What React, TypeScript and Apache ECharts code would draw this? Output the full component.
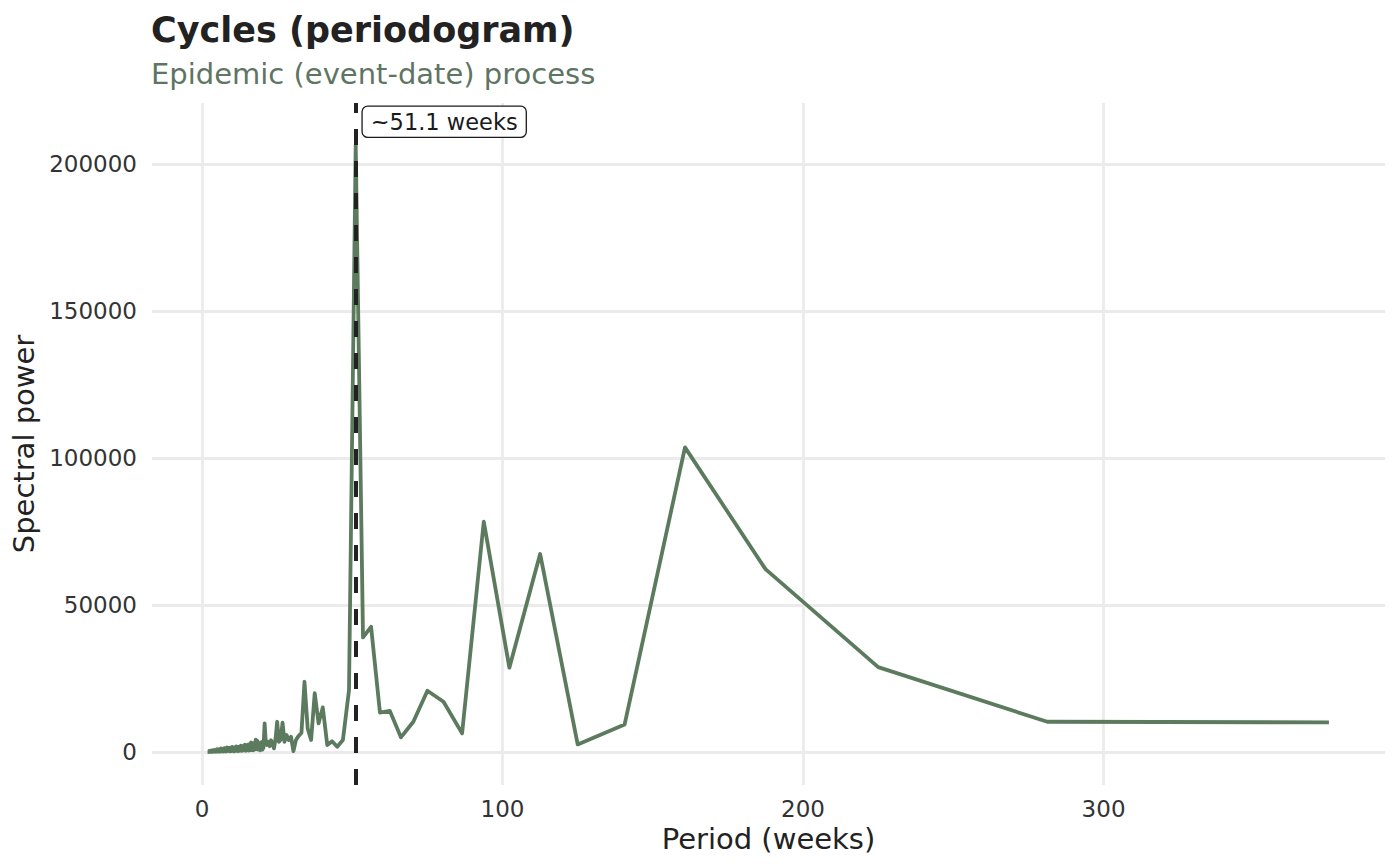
import React, { useEffect, useRef } from "react";
import * as echarts from "echarts";

const periods: number[] = [
  2.0, 2.1, 2.2, 2.31, 2.42, 2.54, 2.67, 2.81, 2.96, 3.13, 3.31, 3.52, 3.75, 4.0,
  4.28, 4.43, 4.59, 4.77, 4.95, 5.14, 5.36, 5.58, 5.83, 6.1, 6.39, 6.7, 7.05, 7.24,
  7.44, 7.65, 7.86, 8.09, 8.33, 8.59, 8.87, 9.15, 9.46, 9.78, 10.14, 10.32, 10.51,
  10.71, 10.92, 11.13, 11.36, 11.6, 11.84, 12.1, 12.36, 12.64, 12.93, 13.24, 13.55,
  13.89, 14.24, 14.61, 15.0, 15.2, 15.41, 15.63, 15.85, 16.07, 16.3, 16.54, 16.79,
  17.05, 17.31, 17.58, 17.86, 18.15, 18.44, 18.75, 19.07, 19.4, 19.74, 20.09,
  20.45, 20.83, 21.23, 21.63, 22.06, 22.5, 22.96, 23.44, 23.94, 24.46, 25.0, 25.57,
  26.16, 26.79, 27.44, 28.13, 28.85, 29.61, 30.41, 31.25, 32.14, 33.09, 34.09,
  35.16, 36.29, 37.5, 38.79, 40.18, 41.67, 43.27, 45.0, 46.88, 48.91, 51.14, 53.57,
  56.25, 59.21, 62.5, 66.18, 70.31, 75.0, 80.36, 86.54, 93.75, 102.27, 112.5, 125.0,
  140.63, 160.71, 187.5, 225.0, 281.25, 375.0,
];

const power: number[] = [
  200, 30, 300, 40, 350, 60, 400, 80, 500, 100, 550, 60, 650, 150,
  750, 100, 700, 150, 950, 200, 850, 150, 1000, 200, 1200, 250, 1100, 200,
  1350, 300, 1250, 200, 1600, 400, 1400, 250, 1500, 300, 1700, 450, 1500,
  250, 1600, 400, 1950, 450, 1750, 300, 1850, 500, 2200, 400, 2000,
  600, 2500, 450, 2300, 700, 2600, 500, 2500, 650, 3300, 700, 2900,
  600, 3100, 900, 4200, 1000, 3800, 800, 2700, 600, 3400, 800,
  1500, 9750, 3000, 2400, 3500, 2000, 4000, 2800, 1250, 4500, 10300, 3500,
  4200, 10000, 3500, 5800, 4100, 5200, 300, 4100, 5500, 6600, 23900,
  8000, 4100, 20000, 9750, 15200, 2400, 3700, 1800, 4100, 21100, 206500, 39000,
  42600, 13400, 14000, 5000, 10300, 20850, 17100, 6350, 78350, 28700, 67350, 2600,
  9400, 103600, 62200, 28900, 10300, 10100,
];

const peakPeriod = 51.14;
const peakLabel = "~51.1 weeks";
const labelY = 214300;
const xTicks: number[] = [0, 100, 200, 300];
const yTicks: number[] = [0, 50000, 100000, 150000, 200000];

const FONT = "DejaVu Sans";

export default function App() {
  const ref = useRef<HTMLDivElement>(null);
  useEffect(() => {
    if (!ref.current) return;
    const chart = echarts.init(ref.current, undefined, { renderer: "svg" });
    const lineData = periods.map((p, i) => [p, power[i]]);
    chart.setOption({
      animation: false,
      backgroundColor: "#ffffff",
      graphic: [
        {
          type: "text",
          left: 151,
          top: 12,
          style: {
            text: "Cycles (periodogram)",
            font: `bold 35px "${FONT}"`,
            fill: "#222222",
          },
        },
        {
          type: "text",
          left: 151,
          top: 59,
          style: {
            text: "Epidemic (event-date) process",
            font: `29px "${FONT}"`,
            fill: "#5f7563",
          },
        },
      ],
      grid: { left: 152, right: 15, top: 103, bottom: 81, containLabel: false },
      xAxis: {
        type: "value",
        min: -16.65,
        max: 393.65,
        name: "Period (weeks)",
        nameLocation: "middle",
        nameGap: 27,
        nameTextStyle: { fontFamily: FONT, fontSize: 29, color: "#222222" },
        axisLine: { show: false },
        axisTick: { show: false },
        axisLabel: {
          fontFamily: FONT,
          fontSize: 23,
          color: "#333333",
          margin: 12,
          showMinLabel: false,
          showMaxLabel: false,
          formatter: (v: number) => (xTicks.includes(v) ? String(v) : ""),
        },
        splitLine: {
          show: true,
          showMinLine: false,
          showMaxLine: false,
          lineStyle: { color: "#ebebeb", width: 2.8 },
        },
      },
      yAxis: {
        type: "value",
        min: -11200,
        max: 220700,
        name: "Spectral power",
        nameLocation: "middle",
        nameGap: 110,
        nameTextStyle: { fontFamily: FONT, fontSize: 29, color: "#222222" },
        axisLine: { show: false },
        axisTick: { show: false },
        axisLabel: {
          fontFamily: FONT,
          fontSize: 23,
          color: "#333333",
          margin: 15,
          showMinLabel: false,
          showMaxLabel: false,
          formatter: (v: number) => (yTicks.includes(v) ? String(v) : ""),
        },
        splitLine: {
          show: true,
          showMinLine: false,
          showMaxLine: false,
          lineStyle: { color: "#ebebeb", width: 2.8 },
        },
      },
      series: [
        {
          type: "line",
          data: lineData,
          showSymbol: false,
          symbol: "none",
          lineStyle: { color: "#5c7b5e", width: 3.8, join: "round" },
          z: 2,
        },
        {
          type: "scatter",
          data: [[peakPeriod, labelY]],
          symbolSize: 0,
          itemStyle: { opacity: 1 },
          z: 5,
          label: {
            show: true,
            position: "right",
            distance: 7,
            formatter: peakLabel,
            fontFamily: FONT,
            fontSize: 22.5,
            lineHeight: 22,
            color: "#1a1a1a",
            opacity: 1,
            backgroundColor: "#ffffff",
            borderColor: "#1a1a1a",
            borderWidth: 1.3,
            borderRadius: 5,
            padding: [4, 8, 4, 8],
          },
          markLine: {
            silent: true,
            symbol: ["none", "none"],
            label: { show: false },
            lineStyle: { color: "#222222", width: 4, type: [16, 16], opacity: 1 },
            data: [{ xAxis: peakPeriod }],
            z: 4,
          },
        },
      ],
    });
    return () => chart.dispose();
  }, []);
  return (
    <div
      ref={ref}
      style={{ position: "fixed", left: 0, top: 0, width: 1400, height: 866 }}
    />
  );
}
